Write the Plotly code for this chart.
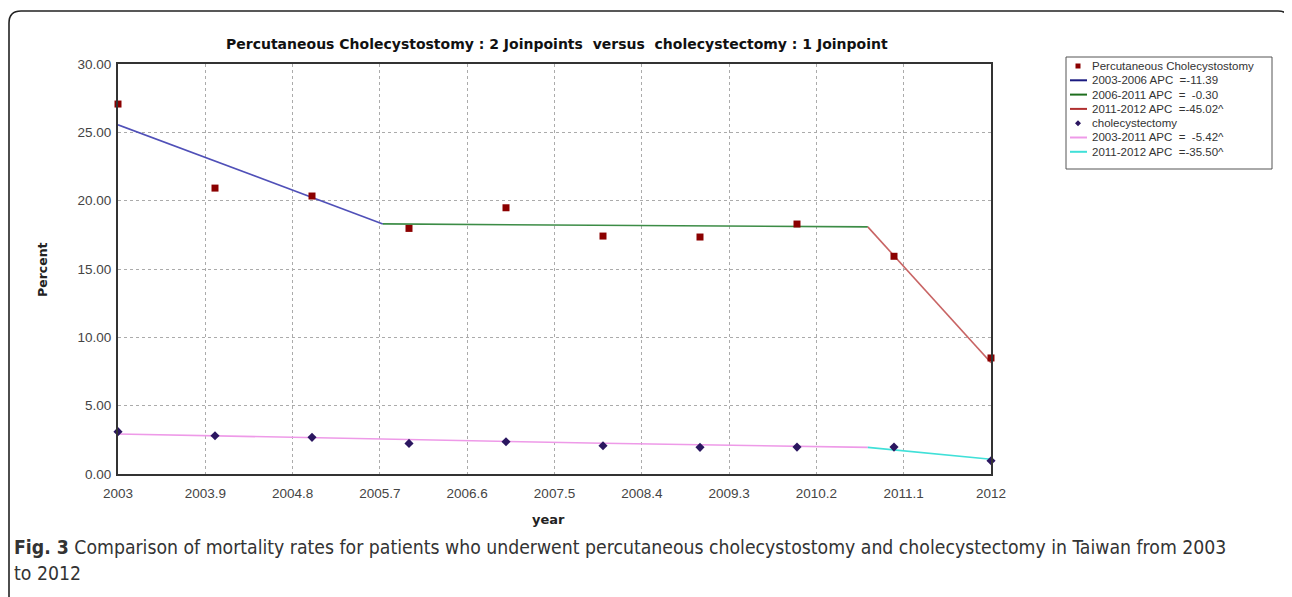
import plotly.graph_objects as go

W, H = 1292, 597

# ---------------- data ----------------
years = [2003, 2004, 2005, 2006, 2007, 2008, 2009, 2010, 2011, 2012]
percutaneous = [27.07, 20.92, 20.34, 17.97, 19.48, 17.41, 17.34, 18.29, 15.93, 8.49]
cholecystectomy = [3.10, 2.80, 2.68, 2.24, 2.36, 2.07, 1.95, 1.97, 1.97, 0.97]

# joinpoint fitted segments (x, y)
seg_pc1_x = [2003, 2005.73]
seg_pc1_y = [25.55, 18.30]
seg_pc2_x = [2005.73, 2010.73]
seg_pc2_y = [18.30, 18.08]
seg_pc3_x = [2010.73, 2012]
seg_pc3_y = [18.08, 8.15]
seg_ch1_x = [2003, 2008, 2010.73]
seg_ch1_y = [2.93, 2.25, 1.95]
seg_ch2_x = [2010.73, 2012]
seg_ch2_y = [1.95, 1.08]

x_ticks = [2003, 2003.9, 2004.8, 2005.7, 2006.6, 2007.5, 2008.4, 2009.3, 2010.2, 2011.1, 2012]
x_tick_labels = ["2003", "2003.9", "2004.8", "2005.7", "2006.6", "2007.5", "2008.4", "2009.3", "2010.2", "2011.1", "2012"]
y_ticks = [0, 5, 10, 15, 20, 25, 30]
y_tick_labels = ["0.00", "5.00", "10.00", "15.00", "20.00", "25.00", "30.00"]

legend_labels = [
    "Percutaneous Cholecystostomy",
    "2003-2006 APC  =-11.39",
    "2006-2011 APC  =  -0.30",
    "2011-2012 APC  =-45.02^",
    "cholecystectomy",
    "2003-2011 APC  =  -5.42^",
    "2011-2012 APC  =-35.50^",
]

title_text = "Percutaneous Cholecystostomy : 2 Joinpoints  versus  cholecystectomy : 1 Joinpoint"
caption_line1 = ("<b>Fig. 3</b> Comparison of mortality rates for patients who underwent percutaneous "
                 "cholecystostomy and cholecystectomy in Taiwan from 2003")
caption_line2 = "to 2012"

# ---------------- styles ----------------
C_PC_MARK = "#8B0000"
C_CH_MARK = "#2B1660"
C_BLUE = "#5050B8"
C_GREEN = "#3C8C46"
C_RED = "#C86464"
C_PINK = "#EE9AE8"
C_CYAN = "#40E0D8"

LEG_BLUE = "#1A1A80"
LEG_GREEN = "#1E6E1E"
LEG_RED = "#B03030"

GRID = "#ababab"
CAPTION_FONT = "DejaVu Sans Condensed, Liberation Sans Narrow, Liberation Sans"

OFF = 8  # page body margin offset


def fx(px):
    return (px - OFF) / W


def fy(py):
    return 1 - (py - OFF) / H


PX_L, PX_R, PX_T, PX_B = 118, 991, 64, 474

fig = go.Figure()

for sx, sy, col in [
    (seg_pc1_x, seg_pc1_y, C_BLUE),
    (seg_pc2_x, seg_pc2_y, C_GREEN),
    (seg_pc3_x, seg_pc3_y, C_RED),
    (seg_ch1_x, seg_ch1_y, C_PINK),
    (seg_ch2_x, seg_ch2_y, C_CYAN),
]:
    fig.add_trace(go.Scatter(x=sx, y=sy, mode="lines", line=dict(color=col, width=1.6),
                             showlegend=False, hoverinfo="skip", cliponaxis=False))

fig.add_trace(go.Scatter(x=years, y=percutaneous, mode="markers", name=legend_labels[0],
                         marker=dict(symbol="square", size=7, color=C_PC_MARK),
                         showlegend=False, cliponaxis=False))
fig.add_trace(go.Scatter(x=years, y=cholecystectomy, mode="markers", name=legend_labels[4],
                         marker=dict(symbol="diamond", size=7, color=C_CH_MARK),
                         showlegend=False, cliponaxis=False))

shapes = []
annotations = []

# outer rounded frame
r = 12
x0, x1, y0 = fx(9), fx(1290), fy(11)
yb = fy(640)
path = (f"M {x0} {yb} L {x0} {fy(11 + r)} Q {x0} {y0} {fx(9 + r)} {y0} "
        f"L {fx(1290 - r)} {y0} Q {x1} {y0} {x1} {fy(11 + r)} L {x1} {yb}")
shapes.append(dict(type="path", xref="paper", yref="paper", path=path,
                   line=dict(color="#222222", width=1.6)))

# legend box
LB_L, LB_R, LB_T, LB_B = 1066, 1272, 57, 169
shapes.append(dict(type="rect", xref="paper", yref="paper",
                   x0=fx(LB_L), x1=fx(LB_R), y0=fy(LB_B), y1=fy(LB_T),
                   line=dict(color="#555555", width=1), fillcolor="white"))

leg_colors = [None, LEG_BLUE, LEG_GREEN, LEG_RED, None, C_PINK, C_CYAN]
row0, dy = 66, 14.3
for i, lab in enumerate(legend_labels):
    yy = row0 + i * dy
    col = leg_colors[i]
    if col is not None:
        shapes.append(dict(type="line", xref="paper", yref="paper",
                           x0=fx(1070), x1=fx(1087), y0=fy(yy), y1=fy(yy),
                           line=dict(color=col, width=2)))
    annotations.append(dict(xref="paper", yref="paper", x=fx(1090), y=fy(yy),
                            xanchor="left", yanchor="middle", showarrow=False,
                            text=lab, font=dict(family="Liberation Sans", size=11.5, color="#333333")))

# legend markers (square and diamond)
shapes.append(dict(type="rect", xref="paper", yref="paper",
                   x0=fx(1075.5), x1=fx(1080.5), y0=fy(row0 + 2.5), y1=fy(row0 - 2.5),
                   line=dict(width=0), fillcolor=C_PC_MARK))
yd = row0 + 4 * dy
shapes.append(dict(type="path", xref="paper", yref="paper",
                   path=(f"M {fx(1078)} {fy(yd - 3)} L {fx(1081)} {fy(yd)} "
                         f"L {fx(1078)} {fy(yd + 3)} L {fx(1075)} {fy(yd)} Z"),
                   line=dict(width=0), fillcolor=C_CH_MARK))

# title
annotations.append(dict(xref="paper", yref="paper", x=fx(557), y=fy(44), xanchor="center",
                        yanchor="middle", showarrow=False, text=f"<b>{title_text}</b>",
                        font=dict(family="DejaVu Sans", size=14, color="#111111")))
# axis titles
annotations.append(dict(xref="paper", yref="paper", x=fx(548), y=fy(519), xanchor="center",
                        yanchor="middle", showarrow=False, text="<b>year</b>",
                        font=dict(family="DejaVu Sans", size=13, color="#222222")))
annotations.append(dict(xref="paper", yref="paper", x=fx(42), y=fy(270), xanchor="center",
                        yanchor="middle", showarrow=False, text="<b>Percent</b>", textangle=-90,
                        font=dict(family="DejaVu Sans", size=12.5, color="#222222")))
# caption
annotations.append(dict(xref="paper", yref="paper", x=fx(12), y=fy(547), xanchor="left",
                        yanchor="middle", showarrow=False, text=caption_line1,
                        font=dict(family=CAPTION_FONT, size=19.25, color="#333333")))
annotations.append(dict(xref="paper", yref="paper", x=fx(12), y=fy(573), xanchor="left",
                        yanchor="middle", showarrow=False, text=caption_line2,
                        font=dict(family=CAPTION_FONT, size=19.25, color="#333333")))

fig.update_layout(
    width=W, height=H,
    margin=dict(l=0, r=0, t=0, b=0, pad=0, autoexpand=False),
    paper_bgcolor="white", plot_bgcolor="white",
    showlegend=False,
    shapes=shapes, annotations=annotations,
    xaxis=dict(domain=[fx(PX_L), fx(PX_R)], range=[2003, 2012], tickvals=x_ticks,
               ticktext=x_tick_labels, showgrid=True, gridcolor=GRID, griddash="dot",
               gridwidth=1, zeroline=False, showline=True, linecolor="#333333", linewidth=2,
               mirror=True, ticks="", automargin=False,
               tickfont=dict(family="Liberation Sans", size=13.5, color="#444444"),
               ticklabelstandoff=6),
    yaxis=dict(domain=[fy(PX_B), fy(PX_T)], range=[0, 30], tickvals=y_ticks,
               ticktext=y_tick_labels, showgrid=True, gridcolor=GRID, griddash="dot",
               gridwidth=1, zeroline=False, showline=True, linecolor="#333333", linewidth=2,
               mirror=True, ticks="", automargin=False,
               tickfont=dict(family="Liberation Sans", size=13.5, color="#444444"),
               ticklabelstandoff=2),
)

fig.write_html("out.html")
